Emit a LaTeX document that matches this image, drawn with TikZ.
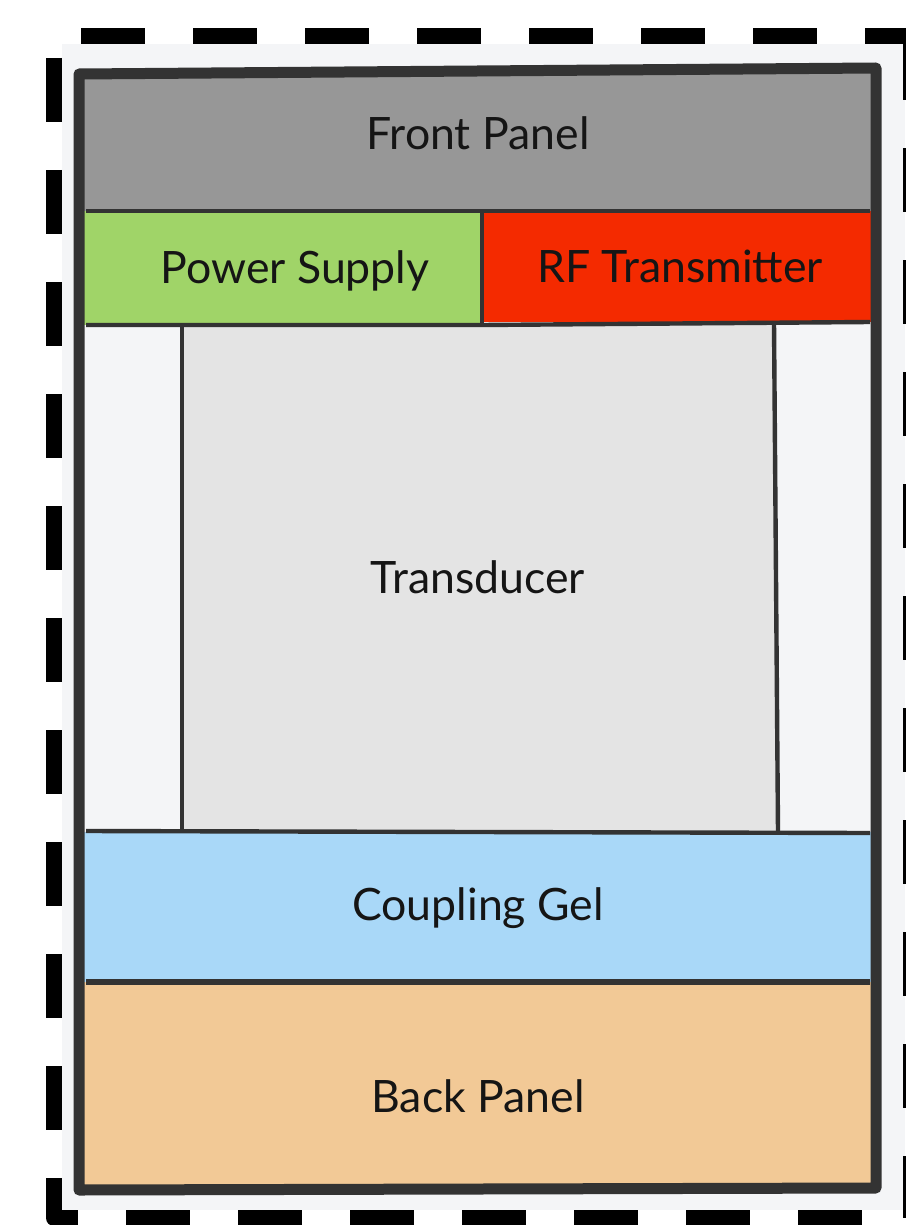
\documentclass[tikz,border=0pt]{standalone}
\usepackage{fontspec}
\setmainfont{Lato}
\usepackage{xcolor}
\usepackage{tikz}
\usetikzlibrary{positioning}

\definecolor{edge}{HTML}{333333}
\definecolor{sheet}{HTML}{F4F5F7}
\definecolor{frontgrey}{HTML}{979797}
\definecolor{powergreen}{HTML}{A0D468}
\definecolor{rfred}{HTML}{F42A00}
\definecolor{transgrey}{HTML}{E4E4E4}
\definecolor{gelblue}{HTML}{A9D8F8}
\definecolor{backpeach}{HTML}{F2C996}
\definecolor{ink}{HTML}{151515}

\begin{document}
\begin{tikzpicture}[
    x=0.5pt, y=-0.5pt,
    dashframe/.style={line width=8pt, dash pattern=on 32pt off 24pt, line join=round},
    wall/.style={draw=edge, line width=5.5pt, line join=round, line cap=round},
    divider/.style={draw=edge, line width=2.2pt},
    tag/.style={anchor=base, font=\fontsize{22.3}{26}\selectfont, text=ink}
]
\useasboundingbox (0,0) rectangle (905,1225);

% Sheet
\fill[white] (0,0) rectangle (905,1225);
\fill[sheet] (62,44) rectangle (905,1210);

% Dashed frame
\draw[dashframe] (81,36) -- (925,36);
\draw[dashframe] (911,36) -- (911,1218);
\draw[dashframe] (54,58) -- (54,1218) -- (925,1218);

% Layers
\fill[frontgrey] (79,74) -- (876,68) -- (876,211) -- (79,211) -- cycle;
\fill[powergreen] (79,211) rectangle (482,325);
\fill[rfred] (482,211) rectangle (876,322);
\fill[transgrey] (182,325) -- (774,323) -- (778,832) -- (182,832) -- cycle;
\fill[gelblue] (79,832) rectangle (876,982);
\fill[backpeach] (79,982) rectangle (876,1189);

% Dividers
\draw[divider] (86,211) -- (870,211);
\draw[divider] (482,211) -- (482,325);
\draw[divider] (86,325) -- (482,325) -- (870,322);
\draw[divider] (182,325) -- (182,832);
\draw[divider] (774,323) -- (778,832);
\draw[divider] (86,831) -- (870,833);
\draw[draw=edge, line width=3pt] (86,982) -- (870,982);

% Outer walls
\draw[wall] (79,74) -- (876,68) -- (876,1188) -- (79,1190) -- cycle;

% Labels
\node[tag] (front) at (478,150) {Front Panel};
\node[tag] (power) at (295,283) {Power Supply};
\node[tag] (rf) at (680,282) {RF Transmitter};
\node[tag] (trans) at (478,593) {Transducer};
\node[tag] (gel) at (478,920) {Coupling Gel};
\node[tag] (back) at (478,1112) {Back Panel};

\end{tikzpicture}
\end{document}
